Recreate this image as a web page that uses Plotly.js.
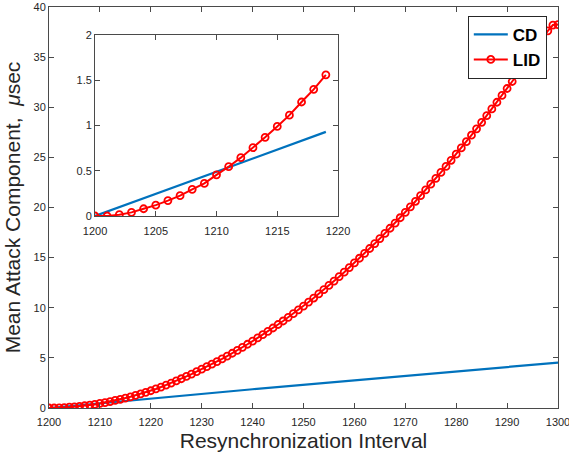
<!DOCTYPE html>
<html>
<head>
<meta charset="utf-8">
<script src="https://cdn.plot.ly/plotly-3.0.1.min.js"></script>
<style>html,body{margin:0;padding:0;background:#fff;}#chart{width:569px;height:463px;}</style>
</head>
<body>
<div id="chart"></div>
<script>
// Main chart data
const xMain = [];
for (let v = 1200; v <= 1300; v++) xMain.push(v);
const lidMain = [
  0.00, 0.00, 0.015, 0.04, 0.08, 0.12, 0.17, 0.225, 0.295, 0.36,
  0.455, 0.545, 0.645, 0.755, 0.87, 0.99, 1.115, 1.26, 1.40, 1.56,
  1.72, 1.90, 2.09, 2.29, 2.49, 2.70, 2.92, 3.15, 3.38, 3.62,
  3.87, 4.12, 4.37, 4.63, 4.90, 5.18, 5.46, 5.75, 6.05, 6.36,
  6.67, 6.99, 7.31, 7.64, 7.98, 8.33, 8.68, 9.04, 9.41, 9.79,
  10.17, 10.57, 10.97, 11.38, 11.80, 12.23, 12.66, 13.10, 13.55, 14.01,
  14.47, 14.94, 15.42, 15.91, 16.40, 16.90, 17.41, 17.93, 18.45, 18.98,
  19.52, 20.07, 20.62, 21.18, 21.75, 22.33, 22.91, 23.50, 24.10, 24.71,
  25.32, 25.94, 26.57, 27.21, 27.85, 28.50, 29.16, 29.83, 30.50, 31.18,
  31.87, 32.57, 33.28, 34.00, 34.72, 35.45, 36.18, 36.91, 37.62, 38.20,
  38.25
];
const xCD = [1200, 1220, 1240, 1260, 1280, 1300];
const cdMain = [0, 0.96, 1.87, 2.75, 3.64, 4.53];

// Inset data
const xInset = [];
for (let v = 1200; v <= 1219; v++) xInset.push(v);
const lidInset = lidMain.slice(0, 20);
const xCDInset = [1200, 1210, 1219];
const cdInset = [0, 0.49, 0.93];

const mainXTicks = [1200, 1210, 1220, 1230, 1240, 1250, 1260, 1270, 1280, 1290, 1300];
const mainYTicks = [0, 5, 10, 15, 20, 25, 30, 35, 40];
const insetXTicks = [1200, 1205, 1210, 1215, 1220];
const insetYTicks = [0, 0.5, 1, 1.5, 2];
const insetYLabels = ['0', '0.5', '1', '1.5', '2'];

const blue = '#0072BD';
const red = '#FF0000';
const axisColor = '#4a4a4a';
const textColor = '#262626';
const fontFam = 'Liberation Sans, Arial, Helvetica, sans-serif';

const traces = [
  {x: xCD, y: cdMain, type: 'scatter', mode: 'lines', name: 'CD',
   line: {color: blue, width: 2.2}, xaxis: 'x', yaxis: 'y'},
  {x: xMain, y: lidMain, type: 'scatter', mode: 'lines+markers', name: 'LID',
   line: {color: red, width: 2},
   marker: {symbol: 'circle-open', size: 7, color: red, line: {width: 1.8, color: red}},
   xaxis: 'x', yaxis: 'y'},
  {x: xCDInset, y: cdInset, type: 'scatter', mode: 'lines', name: 'CD',
   line: {color: blue, width: 2.2}, xaxis: 'x2', yaxis: 'y2', showlegend: false},
  {x: xInset, y: lidInset, type: 'scatter', mode: 'lines+markers', name: 'LID',
   line: {color: red, width: 2},
   marker: {symbol: 'circle-open', size: 7, color: red, line: {width: 1.8, color: red}},
   xaxis: 'x2', yaxis: 'y2', showlegend: false}
];

function axisBase() {
  return {
    showline: true, linecolor: axisColor, linewidth: 1, mirror: 'ticks',
    ticks: 'inside', ticklen: 5, tickwidth: 1, tickcolor: axisColor,
    showgrid: false, zeroline: false, automargin: false,
    ticklabeloverflow: 'allow',
    tickfont: {family: fontFam, size: 11, color: textColor}
  };
}

const layout = {
  width: 569, height: 463,
  margin: {l: 49, r: 11, t: 7, b: 55},
  paper_bgcolor: '#ffffff', plot_bgcolor: '#ffffff',
  font: {family: fontFam, color: textColor},
  showlegend: true,
  legend: {
    x: 0.978, y: 0.978, xanchor: 'right', yanchor: 'top',
    bgcolor: '#ffffff', bordercolor: '#262626', borderwidth: 1,
    font: {family: fontFam, size: 17, color: '#000000', weight: 'bold'},
    tracegroupgap: 0, itemwidth: 34
  },
  xaxis: Object.assign(axisBase(), {
    domain: [0, 1], range: [1200, 1300], tickvals: mainXTicks, ticklabelstandoff: 4,
    title: {text: 'Resynchronization Interval', font: {family: fontFam, size: 21, color: textColor}, standoff: 6}
  }),
  yaxis: Object.assign(axisBase(), {
    domain: [0, 1], range: [0, 40], tickvals: mainYTicks,
    title: {text: 'Mean Attack Component,&nbsp; <i>μ</i>sec', font: {family: fontFam, size: 21, color: textColor}, standoff: 7}
  }),
  xaxis2: Object.assign(axisBase(), {
    domain: [0.0904, 0.5678], range: [1200, 1220], tickvals: insetXTicks, anchor: 'y2', ticklabelstandoff: 5
  }),
  yaxis2: Object.assign(axisBase(), {
    domain: [0.4788, 0.930], range: [0, 2], tickvals: insetYTicks, ticktext: insetYLabels, anchor: 'x2'
  })
};

Plotly.newPlot('chart', traces, layout, {displayModeBar: false, staticPlot: true});
</script>
</body>
</html>
